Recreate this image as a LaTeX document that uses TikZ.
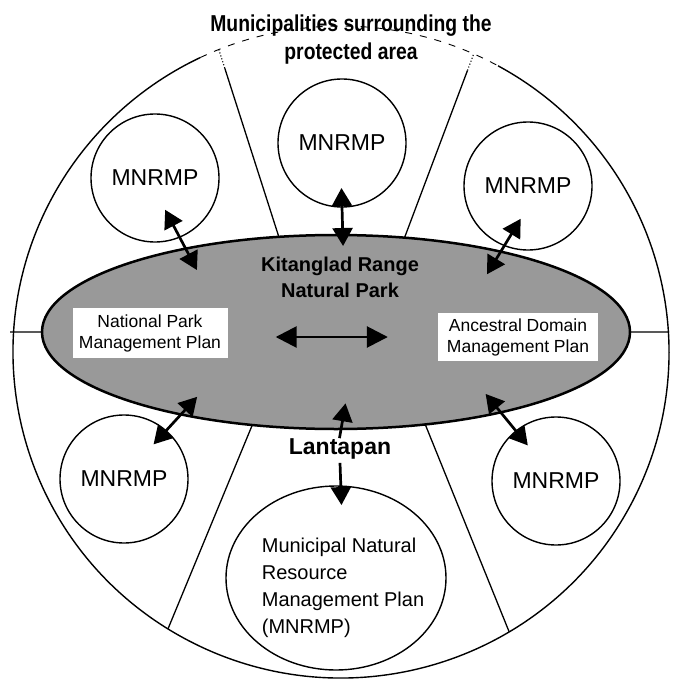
\documentclass[tikz,border=0pt]{standalone}
\usepackage{fontspec}
\setmainfont{Liberation Sans}
\newfontfamily\narrowfont[FakeStretch=0.84]{Liberation Sans}
\usetikzlibrary{shapes.geometric,arrows.meta,calc}
\definecolor{parkgray}{RGB}{153,153,153}
\begin{document}
\begin{tikzpicture}[x=1pt,y=-1pt,
  muni/.style={circle,draw,line width=1.4pt,minimum size=128pt,inner sep=0pt,outer sep=0pt,font=\fontsize{23}{27}\selectfont},
  planbox/.style={fill=white,align=center,minimum height=50pt,inner sep=0pt,font=\fontsize{17.5}{21}\selectfont},
  link/.style={line width=2.7pt,{Triangle[length=18pt,width=20pt]}-{Triangle[length=18pt,width=20pt]}},
  oneway/.style={line width=2.7pt,-{Triangle[length=18pt,width=20pt]}}]
\useasboundingbox (0,0) rectangle (675,679);
% outer ring of municipalities
\node[ellipse,minimum width=656pt,minimum height=652pt,inner sep=0pt,outer sep=0pt] (outer) at (341,352) {};
\draw[line width=1.4pt] (outer.center) ++(-61.4:328 and 326) arc[start angle=-61.4,end angle=244.6,x radius=328,y radius=326];
\draw[line width=0.9pt,dash pattern=on 7pt off 8pt] (outer.center) ++(244.6:328 and 326) arc[start angle=244.6,end angle=298.6,x radius=328,y radius=326];
% protected area
\node[ellipse,draw,line width=2.5pt,fill=parkgray,minimum width=588pt,minimum height=194pt,inner sep=0pt,outer sep=0pt] (park) at (336,332) {};
\coordinate (tl) at ($(park.121.7)!0.9!(outer.112.1)$);
\coordinate (tr) at ($(park.54.5)!0.91!(outer.66.8)$);
\draw[line width=1.3pt] (park.121.7) -- (tl) (park.54.5) -- (tr)
  (park.-132.2) -- (outer.-122.9) (park.-46.3) -- (outer.-59.6)
  (park.west) -- ([xshift=-3pt]park.west -| outer.west) (park.east) -- (park.east -| outer.east);
\draw[line width=1.1pt,dotted] (tl) -- (outer.112.1) (tr) -- (outer.66.8);
\foreach \n/\x/\y in {mt/342/143,mtl/155/178,mtr/528/186,mbl/124/479,mbr/556/481}{
  \node[muni] (\n) at (\x,\y) {MNRMP};
}
\node[ellipse,draw,line width=1.4pt,minimum width=220pt,minimum height=184pt,inner sep=0pt,outer sep=0pt] (lant) at (336,578) {};
\node[align=left,font=\fontsize{20}{27}\selectfont] (lanttxt) at (343,588) {Municipal Natural\\Resource\\Management Plan\\(MNRMP)};
\node[align=center,font=\bfseries\fontsize{20}{26}\selectfont] (kit) at (340,277) {Kitanglad Range\\Natural Park};
\node[planbox,minimum width=155pt] (npmp) at (150,333) {National Park\\Management Plan};
\node[planbox,minimum width=160pt,minimum height=48pt] (admp) at (518,337) {Ancestral Domain\\Management Plan};
\node[font=\bfseries\fontsize{23}{27}\selectfont] (lantlab) at (340,449) {Lantapan};
\node[align=center,font=\narrowfont\bfseries\fontsize{23}{28}\selectfont] (title) at (351,40) {Municipalities surrounding the\\protected area};
% links between plans
\draw[link,shorten <=-19pt,shorten >=-11pt] (mt.south) -- (park.86.4);
\foreach \a/\b/\s/\e in {mtl.123.7/park.151/96.6pt/24.2pt,mtr.49.7/park.26.9/94.9pt/26.5pt,mbl.-134.6/park.-152.6/109.5pt/23.9pt,mbr.-50.6/park.-26.7/109.4pt/23.8pt}{
  \draw[link,shorten <=\s,shorten >=-\e] (\a) -- (\b);
}
\draw[link,{Triangle[length=21pt,width=21pt]}-{Triangle[length=21pt,width=21pt]},shorten <=48pt,shorten >=50pt] (npmp.east |- admp.west) -- (admp.west);
\draw[oneway,shorten <=-3pt,shorten >=-26pt] (lantlab.north) -- (park.-87.6);
\draw[oneway,shorten >=-19pt] (lantlab.south) -- (lant.87.5);
\end{tikzpicture}
\end{document}
